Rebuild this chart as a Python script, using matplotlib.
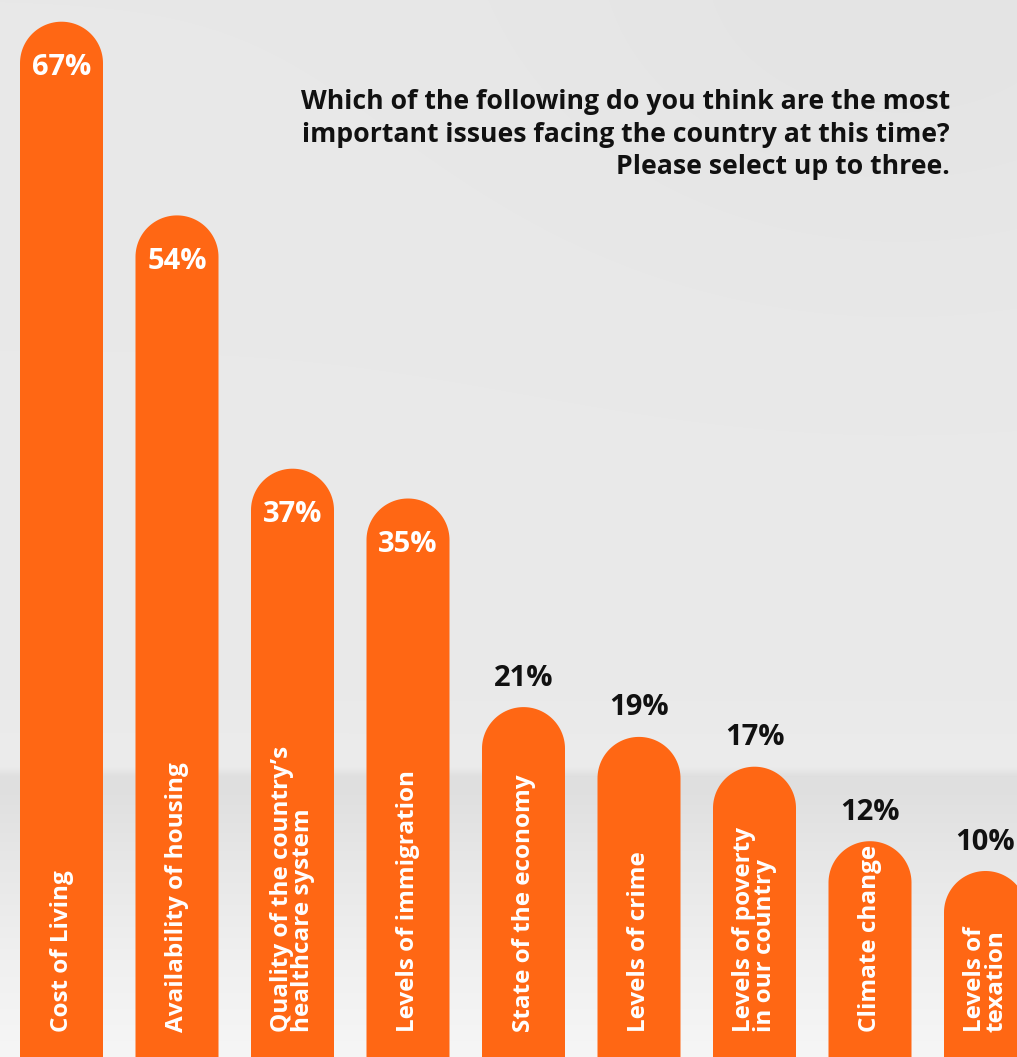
import numpy as np
import matplotlib
matplotlib.use("Agg")
import matplotlib.pyplot as plt
from matplotlib.patches import PathPatch
from matplotlib.path import Path

# Survey results: share of respondents naming each issue (up to three picks)
categories = [
    "Cost of Living",
    "Availability of housing",
    "Quality of the country\u2019s\nhealthcare system",
    "Levels of immigration",
    "State of the economy",
    "Levels of crime",
    "Levels of poverty\nin our country",
    "Climate change",
    "Levels of\ntexation",
]
values = [67, 54, 37, 35, 21, 19, 17, 12, 10]
value_labels = ["67%", "54%", "37%", "35%", "21%", "19%", "17%", "12%", "10%"]

title_lines = [
    "Which of the following do you think are the most",
    "important issues facing the country at this time?",
    "Please select up to three.",
]

W, H, DPI = 1017, 1057, 100
ORANGE = "#FF6714"
INK = "#111111"
FONT = ["Open Sans", "DejaVu Sans"]

px_per_unit = 14.9           # vertical pixels per percentage point
zero_px = 1020.0             # pixel row (from top) of the 0% level
slot_px = 115.5              # horizontal distance between bar centres
first_px = 61.5              # centre of the first bar
bar_px = 83.0                # bar width


def y_at(row):
    """Data y for a pixel row counted from the top edge."""
    return (zero_px - row) / px_per_unit


fig = plt.figure(figsize=(W / DPI, H / DPI), dpi=DPI)
ax = fig.add_axes([0, 0, 1, 1])
xmin = -first_px / slot_px
xmax = (W - first_px) / slot_px
ymin, ymax = y_at(H), y_at(0)
ax.set_xlim(xmin, xmax)
ax.set_ylim(ymin, ymax)
ax.axis("off")

# Soft grey backdrop: vertical shading with a darker band low on the page
rows = np.arange(H)
knots_y = [0, 700, 766, 776, 795, 860, 960, 1057]
knots_v = [232, 234, 236, 223, 224, 231, 240, 246]
col = np.interp(rows, knots_y, knots_v)
xx = np.arange(W)
bg = np.tile(col[:, None], (1, W)).astype(float)
dx = (xx[None, :] - 900) / 350.0
dy = rows[:, None] / 260.0
bg -= 4 * np.exp(-(dx ** 2 + dy ** 2))
bg = np.clip(bg, 0, 255) / 255.0
ax.imshow(np.dstack([bg, bg, bg]), extent=[xmin, xmax, ymin, ymax],
          aspect="auto", origin="upper", zorder=0, interpolation="bilinear")

bar_w = bar_px / slot_px
r_x = bar_w / 2                      # cap radius in x units
r_y = (bar_px / 2) / px_per_unit     # same radius in y units
theta = np.linspace(np.pi, 0, 60)
x = np.arange(len(values))


def pill(xc, top, base):
    """Bar outline from `base` up to a round cap touching `top`."""
    cy = top - r_y
    pts = [(xc - r_x, base), (xc - r_x, cy)]
    pts += list(zip(xc + r_x * np.cos(theta), cy + r_y * np.sin(theta)))
    pts += [(xc + r_x, cy), (xc + r_x, base), (xc - r_x, base)]
    codes = [Path.MOVETO] + [Path.LINETO] * (len(pts) - 2) + [Path.CLOSEPOLY]
    return Path(pts, codes)


for xi, v, lab, cat in zip(x, values, value_labels, categories):
    # bars run off the bottom edge of the page
    ax.add_patch(PathPatch(pill(xi, v, ymin - 1), facecolor=ORANGE,
                           edgecolor="none", zorder=2))
    if v >= 30:
        ax.text(xi, v - 46 / px_per_unit, lab, ha="center", va="center",
                color="white", fontsize=21, fontweight="bold", family=FONT,
                zorder=3)
    else:
        ax.text(xi, v + 29 / px_per_unit, lab, ha="center", va="center",
                color=INK, fontsize=21, fontweight="bold", family=FONT,
                zorder=3)
    ax.text(xi, y_at(1032), cat, rotation=90, ha="center", va="bottom",
            multialignment="left", linespacing=0.88, color="white",
            fontsize=17.5, fontweight="bold", family=FONT, zorder=3)

# Question text, right aligned in the upper right
title_x = xmin + 950 / slot_px
for k, line in enumerate(title_lines):
    ax.text(title_x, y_at(102 + 32.5 * k), line,
            ha="right", va="center", color=INK, fontsize=19.2,
            fontweight="bold", family=FONT, zorder=3)

fig.savefig("out.png", dpi=DPI)
